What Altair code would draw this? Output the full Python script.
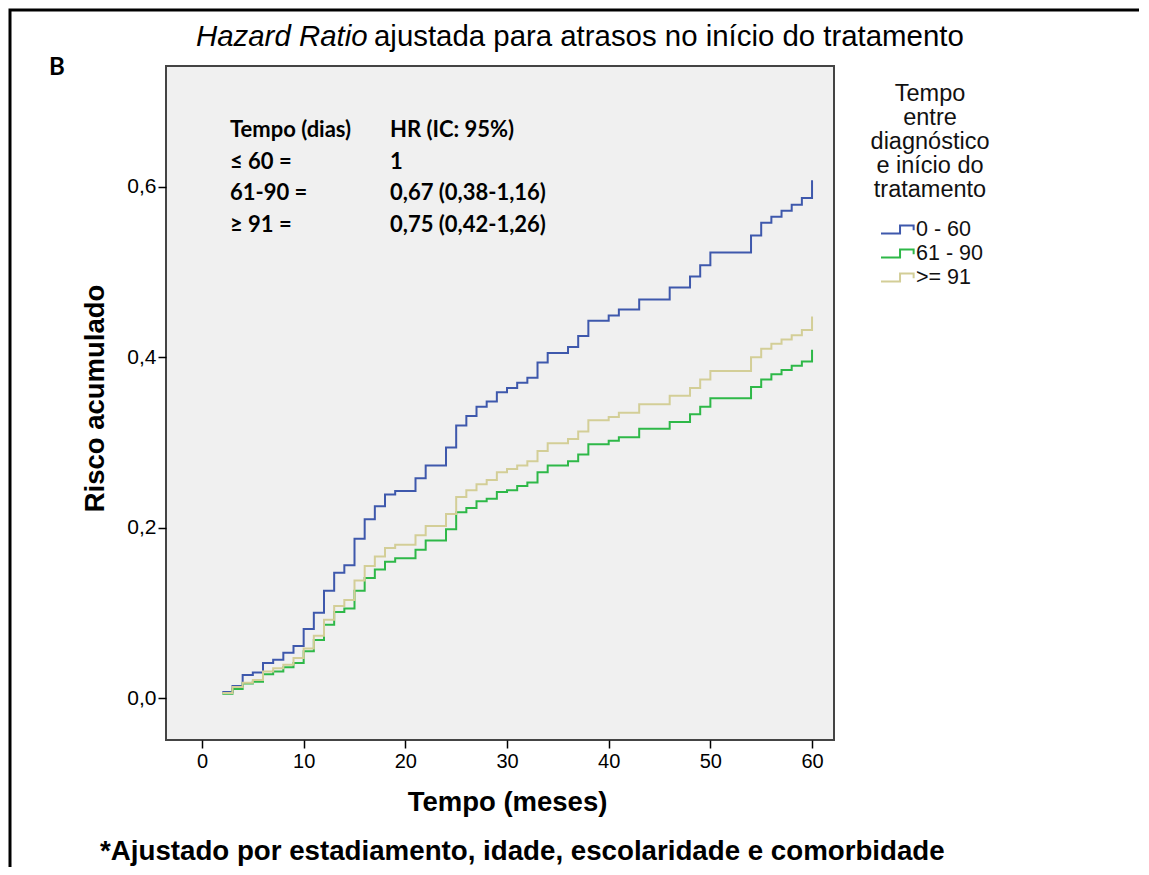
import altair as alt
import pandas as pd

# ---------------- data ----------------
months = [2, 3, 4, 5, 6, 7, 8, 9, 10, 11, 12, 13, 14, 15, 16, 17, 18, 19,
          21, 22, 24, 25, 26, 27, 28, 29, 30, 31, 32, 33, 34, 36, 37, 38,
          40, 41, 43, 46, 48, 49, 50, 54, 55, 56, 57, 58, 59, 60]

risk_0_60 = [0.007, 0.014, 0.027, 0.030, 0.041, 0.045, 0.053, 0.061, 0.081,
             0.100, 0.126, 0.147, 0.156, 0.187, 0.210, 0.225, 0.239, 0.243,
             0.258, 0.273, 0.294, 0.320, 0.331, 0.342, 0.348, 0.359, 0.364,
             0.370, 0.376, 0.394, 0.405, 0.412, 0.425, 0.443, 0.449, 0.456,
             0.468, 0.482, 0.495, 0.508, 0.523, 0.543, 0.558, 0.565, 0.572,
             0.579, 0.587, 0.608]

risk_61_90 = [0.005, 0.0105, 0.017, 0.019, 0.028, 0.031, 0.036, 0.041, 0.055,
              0.068, 0.086, 0.101, 0.105, 0.126, 0.141, 0.151, 0.160, 0.164,
              0.174, 0.185, 0.198, 0.218, 0.223, 0.231, 0.234, 0.242, 0.244,
              0.249, 0.253, 0.265, 0.273, 0.278, 0.286, 0.298, 0.302, 0.306,
              0.316, 0.324, 0.333, 0.342, 0.352, 0.365, 0.374, 0.380, 0.385,
              0.390, 0.395, 0.409]

risk_91 = [0.006, 0.013, 0.018, 0.021, 0.031, 0.035, 0.039, 0.047, 0.058,
           0.073, 0.092, 0.108, 0.115, 0.138, 0.155, 0.166, 0.176, 0.180,
           0.191, 0.202, 0.216, 0.236, 0.244, 0.251, 0.256, 0.265, 0.269,
           0.273, 0.278, 0.290, 0.299, 0.304, 0.313, 0.326, 0.330, 0.335,
           0.345, 0.355, 0.364, 0.374, 0.384, 0.400, 0.410, 0.416, 0.421,
           0.426, 0.432, 0.448]

groups = ["0 - 60", "61 - 90", ">= 91"]
colors = ["#3E58AC", "#2EB848", "#D3CE97"]
x_ticks = [0, 10, 20, 30, 40, 50, 60]
y_ticks = [0.0, 0.2, 0.4, 0.6]

title_italic = "Hazard Ratio"
title_rest = "ajustada para atrasos no início do tratamento"
panel_letter = "B"
legend_title = ["Tempo", "entre", "diagnóstico", "e início do", "tratamento"]
hr_col1 = "Tempo (dias)\n≤ 60 =\n61-90 =\n≥ 91 ="
hr_col2 = "HR (IC: 95%)\n1\n0,67 (0,38-1,16)\n0,75 (0,42-1,26)"
footnote = "*Ajustado por estadiamento, idade, escolaridade e comorbidade"

rows = []
for g, vals in zip(groups, [risk_0_60, risk_61_90, risk_91]):
    for m, v in zip(months, vals):
        rows.append({"tempo": m, "risco": v, "grupo": g})
df = pd.DataFrame(rows)

W, H = 668, 674
ARIAL = "Liberation Sans"
CALIBRI = "Lato"
STEP = "M-1,0.24L0.12,0.24L0.12,-0.24L0.92,-0.24L0.92,0.04"

lines = alt.Chart(df).mark_line(interpolate="step-after", strokeWidth=2).encode(
    x=alt.X("tempo:Q",
            scale=alt.Scale(domain=[-3.54, 62.16], nice=False, zero=False),
            axis=alt.Axis(values=x_ticks, format="d", title="Tempo (meses)",
                          titleFont=ARIAL, titleFontSize=27.5, titleFontWeight="bold",
                          titleColor="black", titleX=341, titleY=62,
                          titleBaseline="middle", titleAlign="center",
                          labelFont=ARIAL, labelFontSize=20, labelColor="black",
                          labelPadding=3, tickColor="black", tickSize=8,
                          tickWidth=1.5, domain=False, grid=False)),
    y=alt.Y("risco:Q",
            scale=alt.Scale(domain=[-0.0493, 0.742], nice=False, zero=False),
            axis=alt.Axis(values=y_ticks,
                          labelExpr="replace(format(datum.value, '.1f'), '.', ',')",
                          title="Risco acumulado", titleFont=ARIAL, titleFontSize=27.5,
                          titleFontWeight="bold", titleColor="black",
                          titleAngle=270, titleX=-71, titleY=332,
                          titleAlign="center", titleBaseline="middle",
                          labelFont=ARIAL, labelFontSize=21, labelColor="black",
                          labelPadding=2, tickColor="black", tickSize=8,
                          tickWidth=1.5, domain=False, grid=False)),
    color=alt.Color("grupo:N",
                    scale=alt.Scale(domain=groups, range=colors),
                    sort=groups,
                    legend=alt.Legend(title=legend_title, orient="none",
                                      legendX=705, legendY=16, padding=0,
                                      titleAlign="center", titleAnchor="middle",
                                      titleFont=ARIAL, titleFontSize=23.5,
                                      titleFontWeight="normal", titleColor="#111",
                                      titleLineHeight=24, titlePadding=16,
                                      labelFont=ARIAL, labelFontSize=21.5,
                                      labelColor="#111", labelOffset=0,
                                      symbolType=STEP, symbolSize=1156,
                                      symbolStrokeWidth=2, symbolOffset=2,
                                      clipHeight=24, rowPadding=0)),
    order=alt.Order("tempo:Q"),
)

one = alt.Data(values=[{}])

border = alt.Chart(one).mark_rect(fillOpacity=0, stroke="black", strokeWidth=3).encode(
    x=alt.value(-156), x2=alt.value(976), y=alt.value(-56), y2=alt.value(830))

t_italic = alt.Chart(one).mark_text(text=title_italic, font=ARIAL, fontSize=29.4,
                                    fontStyle="italic", align="left",
                                    baseline="middle", color="black").encode(
    x=alt.value(30), y=alt.value(-29))
t_rest = alt.Chart(one).mark_text(text=title_rest, font=ARIAL, fontSize=29.4,
                                  align="left", baseline="middle",
                                  color="black").encode(
    x=alt.value(208), y=alt.value(-29))
t_letter = alt.Chart(one).mark_text(text=panel_letter, font=CALIBRI, fontSize=24,
                                    fontWeight="bold", align="center",
                                    baseline="middle", color="black").encode(
    x=alt.value(-109), y=alt.value(2))
t_col1 = alt.Chart(one).mark_text(text=hr_col1, lineBreak="\n", lineHeight=31.7,
                                  font=CALIBRI, fontSize=22, fontWeight="bold",
                                  align="left", baseline="middle",
                                  color="black").encode(
    x=alt.value(64), y=alt.value(64))
t_col2 = alt.Chart(one).mark_text(text=hr_col2, lineBreak="\n", lineHeight=31.7,
                                  font=CALIBRI, fontSize=22, fontWeight="bold",
                                  align="left", baseline="middle",
                                  color="black").encode(
    x=alt.value(224), y=alt.value(64))
t_foot = alt.Chart(one).mark_text(text=footnote, font=ARIAL, fontSize=27.7,
                                  fontWeight="bold", align="left",
                                  baseline="alphabetic", color="black").encode(
    x=alt.value(-66), y=alt.value(794))

chart = alt.layer(lines, border, t_italic, t_rest, t_letter, t_col1, t_col2, t_foot).properties(
    width=W, height=H,
    autosize=alt.AutoSizeParams(type="none"),
    padding={"left": 158, "top": 58, "right": 305, "bottom": 127},
    background="white",
).configure_view(
    fill="#F0F0F0", stroke="#444444", strokeWidth=2
)

chart.save("out.html", embed_options={"renderer": "svg", "actions": False})
